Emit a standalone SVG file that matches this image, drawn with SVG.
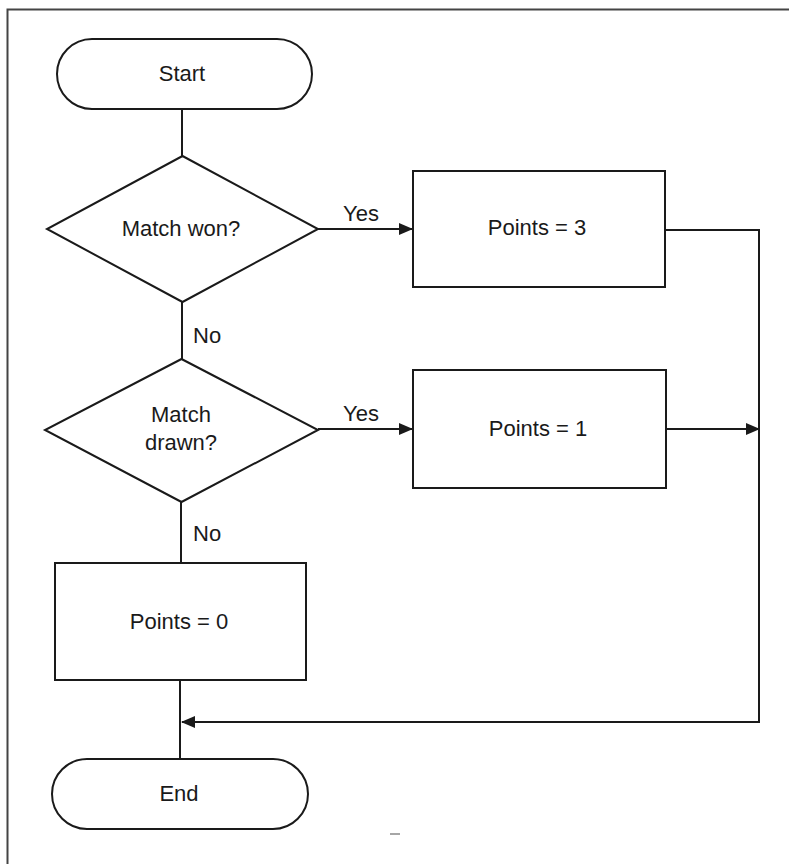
<svg xmlns="http://www.w3.org/2000/svg" width="789" height="864" viewBox="0 0 789 864">
<style>
.s{fill:#fff;stroke:#1a1a1a;stroke-width:2}
.c{fill:none;stroke:#1a1a1a;stroke-width:2}
.t{font-family:"Liberation Sans",Arial,sans-serif;font-size:22px;fill:#1a1a1a;text-anchor:middle}
.l{font-family:"Liberation Sans",Arial,sans-serif;font-size:22px;fill:#1a1a1a}
</style>
<defs>
<marker id="ah" markerWidth="14" markerHeight="12" refX="13" refY="6" orient="auto" markerUnits="userSpaceOnUse">
<path d="M0,0 L14,6 L0,12 Z" fill="#1a1a1a"/>
</marker>
</defs>
<rect width="789" height="864" fill="#fff"/>
<path d="M7.5,864 V9.5 H789" fill="none" stroke="#444" stroke-width="2"/>
<line x1="390" y1="834" x2="400" y2="834" stroke="#888" stroke-width="1.5"/>
<g id="connectors">
<path class="c" d="M182,109 V156"/>
<path class="c" d="M318,229 H412" marker-end="url(#ah)"/>
<path class="c" d="M182,302 V359"/>
<path class="c" d="M318,429 H412" marker-end="url(#ah)"/>
<path class="c" d="M181,502 V563"/>
<path class="c" d="M665,230 H759 V722 H182" marker-end="url(#ah)"/>
<path class="c" d="M666,429 H759" marker-end="url(#ah)"/>
<path class="c" d="M180,680 V759"/>
<text class="l" x="343" y="221">Yes</text>
<text class="l" x="343" y="421">Yes</text>
<text class="l" x="193" y="343">No</text>
<text class="l" x="193" y="541">No</text>
</g>
<g id="start">
<rect class="s" x="57" y="39" width="255" height="70" rx="35" ry="35"/>
<text class="t" x="182" y="81">Start</text>
</g>
<g id="matchWon">
<path class="s" d="M182.5,156 L318,229 L182.5,302 L47,229 Z"/>
<text class="t" x="181" y="236">Match won?</text>
</g>
<g id="points3">
<rect class="s" x="413" y="171" width="252" height="116"/>
<text class="t" x="537" y="235">Points = 3</text>
</g>
<g id="matchDrawn">
<path class="s" d="M181.5,359 L318,430 L181.5,502 L45,430 Z"/>
<text class="t" x="181" y="422">Match</text>
<text class="t" x="181" y="450">drawn?</text>
</g>
<g id="points1">
<rect class="s" x="413" y="370" width="253" height="118"/>
<text class="t" x="538" y="436">Points = 1</text>
</g>
<g id="points0">
<rect class="s" x="55" y="563" width="251" height="117"/>
<text class="t" x="179" y="629">Points = 0</text>
</g>
<g id="end">
<rect class="s" x="52" y="759" width="256" height="70" rx="35" ry="35"/>
<text class="t" x="179" y="801">End</text>
</g>
</svg>
